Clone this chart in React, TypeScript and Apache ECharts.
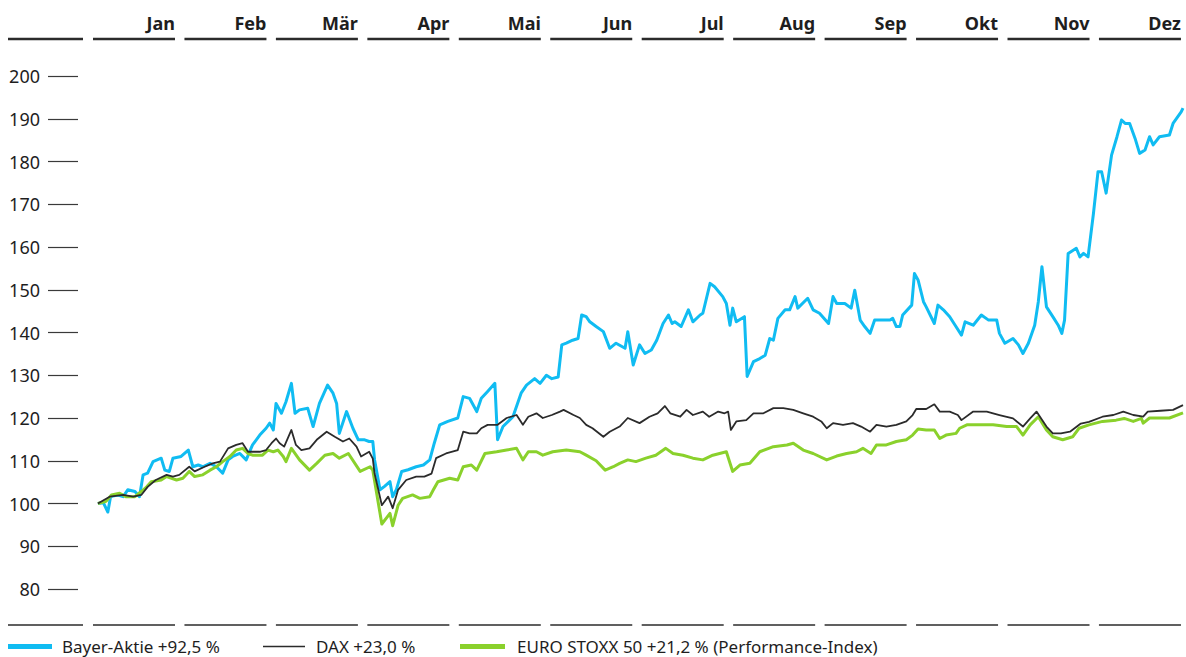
import React, { useEffect, useRef } from "react";
import * as echarts from "echarts";

const monthLabels = ["Jan", "Feb", "Mär", "Apr", "Mai", "Jun", "Jul", "Aug", "Sep", "Okt", "Nov", "Dez"];

const legendLabels = ["Bayer-Aktie +92,5 %", "DAX +23,0 %", "EURO STOXX 50 +21,2 % (Performance-Index)"];

// [month offset from 1 Jan, index value]
const bayer: [number, number][] = [
  [0.0, 100], [0.06, 100.2], [0.11, 98], [0.14, 101.6], [0.22, 102], [0.28, 101.6], [0.33, 103.2], [0.41, 102.8],
  [0.46, 101.6], [0.5, 106.7], [0.55, 107.1], [0.61, 109.8], [0.7, 110.6], [0.74, 107.8], [0.79, 107.5], [0.83, 110.6],
  [0.92, 111], [1.0, 112.5], [1.05, 108.6], [1.11, 109], [1.16, 108.6], [1.24, 109.4], [1.31, 108.6], [1.38, 107.1],
  [1.44, 110.2], [1.49, 111], [1.57, 111.7], [1.64, 110.2], [1.71, 113.7], [1.79, 116], [1.86, 117.6], [1.9, 118.8],
  [1.94, 117.2], [1.97, 123.4], [2.03, 121.1], [2.08, 123.8], [2.14, 128.1], [2.18, 121.1], [2.23, 121.9], [2.32, 122.3],
  [2.38, 118], [2.45, 123.4], [2.54, 127.7], [2.6, 125.8], [2.64, 123.4], [2.67, 116.4], [2.75, 121.5], [2.82, 117.6],
  [2.88, 114.9], [2.95, 114.9], [3.0, 114.5], [3.04, 114.5], [3.06, 110.2], [3.12, 103.2], [3.17, 104], [3.23, 105.1],
  [3.26, 101.6], [3.3, 103.2], [3.36, 107.5], [3.43, 107.9], [3.52, 108.6], [3.6, 109], [3.67, 110.2], [3.72, 114.1],
  [3.78, 118.4], [3.87, 119.2], [3.98, 120], [4.04, 125], [4.11, 124.6], [4.19, 121.5], [4.24, 124.6], [4.31, 126.2],
  [4.39, 128.1], [4.42, 114.9], [4.48, 118], [4.59, 120.3], [4.68, 125.8], [4.74, 127.7], [4.83, 129.2], [4.89, 128.1],
  [4.96, 130], [5.02, 129.2], [5.09, 129.6], [5.13, 137.1], [5.18, 137.5], [5.25, 138.2], [5.31, 138.6], [5.35, 144.1],
  [5.4, 143.7], [5.44, 142.5], [5.51, 141.4], [5.59, 140.2], [5.66, 136.3], [5.73, 137.5], [5.83, 136.3], [5.86, 140.2],
  [5.92, 132.4], [5.99, 137.1], [6.05, 135.1], [6.12, 135.9], [6.18, 138.2], [6.25, 142.1], [6.31, 144.1], [6.35, 142.1],
  [6.38, 142.5], [6.45, 141.4], [6.53, 145.3], [6.58, 142.5], [6.66, 144.1], [6.69, 144.5], [6.77, 151.5], [6.82, 150.7],
  [6.91, 148.4], [6.95, 146.8], [6.99, 141.7], [7.02, 145.7], [7.06, 142.5], [7.15, 143.7], [7.18, 129.7], [7.25, 133.2],
  [7.32, 133.9], [7.38, 134.7], [7.43, 138.6], [7.47, 138.2], [7.52, 143.3], [7.6, 145.3], [7.65, 145.3], [7.71, 148.4],
  [7.74, 145.7], [7.85, 148], [7.91, 145.3], [7.98, 144.5], [8.08, 142.1], [8.13, 148.4], [8.17, 146.8], [8.26, 146.8],
  [8.33, 145.7], [8.37, 149.9], [8.43, 142.9], [8.48, 141.4], [8.54, 139.8], [8.59, 142.9], [8.68, 142.9], [8.76, 142.9],
  [8.79, 143.3], [8.83, 141.4], [8.87, 141.4], [8.9, 144.1], [9.0, 146.4], [9.03, 153.8], [9.07, 152.3], [9.13, 147.2],
  [9.16, 146], [9.25, 142.1], [9.29, 146.4], [9.35, 145.3], [9.42, 143.7], [9.48, 141.7], [9.55, 139.4], [9.59, 142.5],
  [9.68, 141.7], [9.77, 144.1], [9.85, 142.9], [9.94, 142.9], [9.97, 139.8], [10.03, 137.5], [10.12, 138.6], [10.18, 137.1],
  [10.23, 135.1], [10.29, 137.5], [10.36, 141.7], [10.4, 147.2], [10.44, 155.4], [10.49, 146], [10.56, 143.7], [10.62, 141.7],
  [10.66, 139.8], [10.69, 142.9], [10.73, 158.5], [10.82, 159.7], [10.86, 157.7], [10.9, 158.5], [10.95, 157.7], [11.01, 167.9],
  [11.06, 177.6], [11.1, 177.6], [11.15, 172.6], [11.21, 181.5], [11.27, 185.8], [11.32, 189.7], [11.36, 188.9], [11.41, 188.9],
  [11.47, 185.4], [11.52, 181.9], [11.58, 182.7], [11.63, 185.8], [11.67, 183.9], [11.74, 185.8], [11.85, 186.2], [11.89, 188.9],
  [11.98, 191.6], [12.0, 192.5],
];

const dax: [number, number][] = [
  [0.0, 100], [0.13, 101.6], [0.28, 102], [0.39, 101.6], [0.48, 102], [0.55, 103.9], [0.64, 105.5], [0.76, 106.7],
  [0.83, 106.3], [0.9, 106.7], [1.01, 108.6], [1.07, 107.5], [1.18, 108.6], [1.27, 109.4], [1.35, 109.8], [1.44, 112.9],
  [1.53, 113.7], [1.6, 114.1], [1.66, 112.1], [1.79, 112.1], [1.86, 112.5], [1.92, 114.1], [1.97, 115.2], [2.01, 114.1],
  [2.06, 113.3], [2.14, 117.2], [2.19, 113.7], [2.25, 112.5], [2.34, 112.9], [2.42, 114.9], [2.53, 116.8], [2.62, 115.6],
  [2.71, 114.5], [2.78, 115.2], [2.86, 113.3], [2.91, 111], [3.0, 112.1], [3.04, 110.5], [3.06, 107], [3.14, 99.6],
  [3.21, 101.6], [3.26, 98.9], [3.32, 103.2], [3.41, 105.5], [3.52, 106.3], [3.61, 106.3], [3.69, 107], [3.74, 110.6],
  [3.85, 111.7], [3.98, 112.5], [4.04, 116.8], [4.11, 116.4], [4.19, 116.4], [4.24, 117.6], [4.31, 118.4], [4.42, 118.4],
  [4.52, 120], [4.63, 120.7], [4.7, 118.4], [4.76, 120.3], [4.85, 121.1], [4.92, 120], [5.02, 120.7], [5.11, 121.5],
  [5.15, 121.9], [5.26, 120.7], [5.33, 120], [5.4, 118.4], [5.47, 117.6], [5.59, 115.6], [5.66, 116.8], [5.77, 118],
  [5.86, 120], [5.99, 118.8], [6.1, 120.3], [6.19, 121.1], [6.27, 122.8], [6.33, 121.1], [6.44, 120.3], [6.51, 121.9],
  [6.58, 120.7], [6.69, 121.5], [6.76, 120.3], [6.86, 121.5], [6.93, 121.1], [6.97, 121.5], [7.0, 117.2], [7.06, 119.2],
  [7.17, 119.5], [7.25, 121.1], [7.36, 121.1], [7.47, 122.3], [7.58, 122.3], [7.69, 121.9], [7.8, 121.1], [7.91, 120.3],
  [8.0, 119.2], [8.06, 117.6], [8.13, 118.8], [8.24, 118.4], [8.35, 118.8], [8.44, 118], [8.54, 116.8], [8.61, 118.4],
  [8.72, 118], [8.83, 118.4], [8.94, 119.2], [9.01, 120.7], [9.05, 122.1], [9.16, 122.1], [9.25, 123.2], [9.31, 121.5],
  [9.42, 121.5], [9.51, 120.7], [9.55, 119.5], [9.68, 121.5], [9.83, 121.5], [9.97, 120.7], [10.12, 119.9], [10.23, 118],
  [10.31, 119.9], [10.38, 121.5], [10.49, 118], [10.56, 116.4], [10.65, 116.4], [10.75, 116.8], [10.87, 118.7], [10.96, 119.1],
  [11.11, 120.3], [11.23, 120.7], [11.34, 121.5], [11.45, 120.7], [11.56, 120.3], [11.61, 121.5], [11.75, 121.7], [11.89, 121.9],
  [12.0, 123.0],
];

const euroStoxx: [number, number][] = [
  [0.0, 100], [0.09, 100.5], [0.15, 102], [0.24, 102.4], [0.31, 101.6], [0.41, 101.6], [0.48, 102.8], [0.54, 103.9],
  [0.59, 105.1], [0.7, 105.5], [0.76, 106.3], [0.87, 105.5], [0.94, 105.9], [1.01, 107.5], [1.07, 106.3], [1.16, 106.7],
  [1.24, 107.8], [1.31, 108.6], [1.38, 109.8], [1.46, 111], [1.53, 112.5], [1.6, 112.9], [1.66, 111.7], [1.71, 111.3],
  [1.82, 111.3], [1.88, 112.5], [1.94, 112.1], [1.99, 112.5], [2.05, 111], [2.08, 109.8], [2.14, 112.9], [2.23, 110.2],
  [2.34, 107.8], [2.42, 109.4], [2.51, 111.3], [2.6, 111.7], [2.67, 110.6], [2.77, 111.7], [2.9, 107.5], [3.01, 108.6],
  [3.04, 107.8], [3.14, 95.2], [3.23, 97.7], [3.26, 94.8], [3.32, 99.6], [3.37, 101.2], [3.48, 102], [3.56, 101.2],
  [3.67, 101.6], [3.71, 103.2], [3.76, 105.1], [3.89, 105.9], [3.98, 105.5], [4.04, 108.6], [4.13, 109], [4.19, 107.8],
  [4.28, 111.7], [4.41, 112.1], [4.52, 112.5], [4.63, 112.9], [4.7, 110.2], [4.76, 112.1], [4.85, 112.1], [4.92, 111.3],
  [5.03, 112.1], [5.18, 112.5], [5.33, 112.1], [5.4, 111.3], [5.51, 110], [5.61, 107.8], [5.7, 108.6], [5.77, 109.4],
  [5.86, 110.2], [5.95, 109.8], [6.06, 110.6], [6.17, 111.3], [6.28, 112.9], [6.36, 111.7], [6.47, 111.3], [6.58, 110.6],
  [6.69, 110.2], [6.8, 111.3], [6.95, 112.1], [7.02, 107.5], [7.1, 109], [7.21, 109.4], [7.32, 112.1], [7.47, 113.3],
  [7.62, 113.7], [7.69, 114.1], [7.8, 112.5], [7.91, 111.7], [8.06, 110.2], [8.17, 111.1], [8.28, 111.7], [8.39, 112.1],
  [8.46, 112.9], [8.55, 111.7], [8.61, 113.7], [8.72, 113.7], [8.83, 114.5], [8.94, 114.9], [9.01, 116], [9.07, 117.4],
  [9.16, 117.2], [9.25, 117.2], [9.31, 115.2], [9.38, 116], [9.49, 116.4], [9.53, 117.6], [9.61, 118.4], [9.75, 118.4],
  [9.9, 118.4], [10.05, 118], [10.16, 118], [10.23, 116], [10.31, 118.4], [10.4, 120.3], [10.49, 117.2], [10.56, 115.6],
  [10.67, 114.9], [10.78, 115.6], [10.85, 117.6], [10.96, 118.4], [11.11, 119.2], [11.26, 119.5], [11.35, 119.9], [11.45, 119.2],
  [11.54, 119.9], [11.56, 118.8], [11.63, 120], [11.85, 120], [12.0, 121.2],
];

const BLUE = "#10bcf2";
const GREEN = "#8ad12c";
const BLACK = "#2b2b2b";
const TEXT = "#1e1e1e";
const FONT = "'Noto Sans', 'DejaVu Sans', sans-serif";

export default function App() {
  const ref = useRef<HTMLDivElement>(null);

  useEffect(() => {
    if (!ref.current) return;
    const chart = echarts.init(ref.current, undefined, { renderer: "svg" });

    const segStart = 93;
    const segStep = 91.45;
    const segLen = 82;

    const graphics: any[] = [];
    graphics.push({ type: "line", shape: { x1: 8, y1: 39, x2: 83, y2: 39 }, style: { stroke: BLACK, lineWidth: 2.5 } });
    graphics.push({ type: "line", shape: { x1: 8, y1: 625, x2: 83, y2: 625 }, style: { stroke: BLACK, lineWidth: 1.5 } });
    monthLabels.forEach((m, i) => {
      const x0 = segStart + i * segStep;
      const x1 = x0 + segLen;
      graphics.push({ type: "line", shape: { x1: x0, y1: 39, x2: x1, y2: 39 }, style: { stroke: BLACK, lineWidth: 2.5 } });
      graphics.push({ type: "line", shape: { x1: x0, y1: 625, x2: x1, y2: 625 }, style: { stroke: BLACK, lineWidth: 1.5 } });
      graphics.push({
        type: "text",
        x: x1,
        y: 23,
        style: { text: m, fill: TEXT, font: `bold 18px ${FONT}`, textAlign: "right", textVerticalAlign: "middle" },
      });
    });

    const legendY = 646;
    const legendFont = `17px ${FONT}`;
    graphics.push({ type: "rect", shape: { x: 8, y: legendY - 2, width: 44, height: 5 }, style: { fill: BLUE } });
    graphics.push({ type: "text", x: 62, y: legendY, style: { text: legendLabels[0], fill: TEXT, font: legendFont, textVerticalAlign: "middle" } });
    graphics.push({ type: "line", shape: { x1: 263, y1: legendY + 0.5, x2: 305, y2: legendY + 0.5 }, style: { stroke: BLACK, lineWidth: 1.5 } });
    graphics.push({ type: "text", x: 316, y: legendY, style: { text: legendLabels[1], fill: TEXT, font: legendFont, textVerticalAlign: "middle" } });
    graphics.push({ type: "rect", shape: { x: 460, y: legendY - 2, width: 45, height: 5 }, style: { fill: GREEN } });
    graphics.push({ type: "text", x: 517, y: legendY, style: { text: legendLabels[2], fill: TEXT, font: legendFont, textVerticalAlign: "middle" } });

    chart.setOption({
      animation: false,
      backgroundColor: "#ffffff",
      grid: { left: 78, right: 3, top: 76, bottom: 68, containLabel: false },
      xAxis: {
        type: "value",
        min: -0.22,
        max: 12,
        show: false,
        splitLine: { show: false },
      },
      yAxis: {
        type: "value",
        min: 80,
        max: 200,
        interval: 10,
        axisLine: { show: false, onZero: false },
        axisTick: { show: true, length: 30, lineStyle: { color: "#3a3a3a", width: 1.2 } },
        splitLine: { show: false },
        axisLabel: { margin: 38, fontSize: 18, color: TEXT, fontFamily: FONT },
      },
      series: [
        {
          name: legendLabels[0],
          type: "line",
          data: bayer,
          showSymbol: false,
          lineStyle: { color: BLUE, width: 3, join: "round" },
          itemStyle: { color: BLUE },
          z: 2,
        },
        {
          name: legendLabels[2],
          type: "line",
          data: euroStoxx,
          showSymbol: false,
          lineStyle: { color: GREEN, width: 3, join: "round" },
          itemStyle: { color: GREEN },
          z: 3,
        },
        {
          name: legendLabels[1],
          type: "line",
          data: dax,
          showSymbol: false,
          lineStyle: { color: BLACK, width: 1.8, join: "round" },
          itemStyle: { color: BLACK },
          z: 4,
        },
      ],
      graphic: graphics,
    });

    return () => chart.dispose();
  }, []);

  return <div ref={ref} style={{ position: "absolute", left: 0, top: 0, width: 1186, height: 657 }} />;
}
